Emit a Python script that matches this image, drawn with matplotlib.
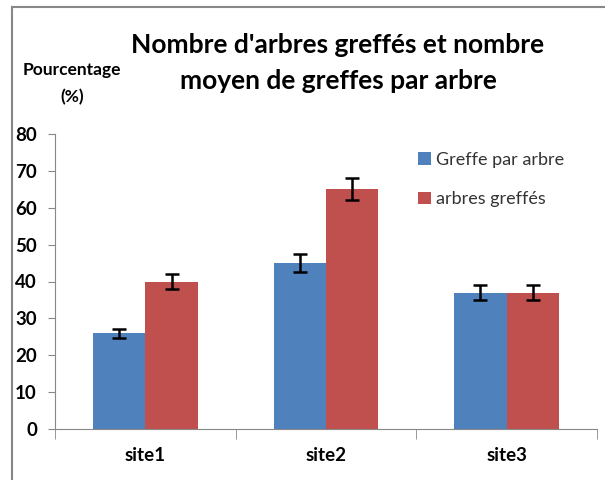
import matplotlib
matplotlib.use("Agg")
import matplotlib.pyplot as plt
from matplotlib.lines import Line2D
import numpy as np

categories = ["site1", "site2", "site3"]
greffe_par_arbre = [26, 45, 37]
greffe_err = [1.2, 2.4, 2.0]
arbres_greffes = [40, 65, 37]
arbres_err = [2.0, 3.0, 2.0]
yticks = [0, 10, 20, 30, 40, 50, 60, 70, 80]

plt.rcParams['font.family'] = ['Lato', 'DejaVu Sans']

fig = plt.figure(figsize=(6.05, 4.8), dpi=100)
ax = fig.add_axes([55/605, 1-429/480, (597-55)/605, (429-134)/480])

x = np.arange(len(categories))
w = 0.29
blue = "#4F81BD"
red = "#C0504D"
ax.bar(x - w/2, greffe_par_arbre, w, color=blue, label="Greffe par arbre",
       yerr=greffe_err, error_kw=dict(ecolor="black", capsize=5, elinewidth=1.8, capthick=1.8))
ax.bar(x + w/2, arbres_greffes, w, color=red, label="arbres greffés",
       yerr=arbres_err, error_kw=dict(ecolor="black", capsize=5, elinewidth=1.8, capthick=1.8))

ax.set_xlim(-0.5, 2.5)
ax.set_ylim(0, 80)
ax.set_yticks(yticks)
ax.set_yticklabels([str(v) for v in yticks], fontsize=13.5, fontweight="bold")
ax.set_xticks(x)
ax.set_xticklabels(categories, fontsize=13.5, fontweight="bold")
ax.tick_params(axis="x", length=0, pad=13)
ax.set_xticks([-0.5, 0.5, 1.5, 2.5], minor=True)
ax.tick_params(axis="x", which="minor", length=7, color="#888888")
ax.tick_params(axis="y", length=5, color="#888888", pad=8)
for s in ["top", "right"]:
    ax.spines[s].set_visible(False)
for s in ["left", "bottom"]:
    ax.spines[s].set_color("#888888")

leg = ax.legend(loc="upper left", bbox_to_anchor=(0.64, 0.995), frameon=False,
                fontsize=13, handlelength=0.7, handleheight=0.7, handletextpad=0.3,
                labelspacing=1.3)
for t in leg.get_texts():
    t.set_color("#333333")

fig.text(338/605, 1-45/480, "Nombre d'arbres greffés et nombre", ha="center", va="center",
         fontsize=19, fontweight="bold")
fig.text(338/605, 1-81/480, "moyen de greffes par arbre", ha="center", va="center",
         fontsize=19, fontweight="bold")
fig.text(72/605, 1-70/480, "Pourcentage", ha="center", va="center", fontsize=12.5, fontweight="bold")
fig.text(72/605, 1-97/480, "(%)", ha="center", va="center", fontsize=12.5, fontweight="bold")

# outer frame (left and top edges)
fig.add_artist(Line2D([12/605, 12/605], [0, 1-7/480], transform=fig.transFigure, color="#888888", lw=1.5))
fig.add_artist(Line2D([12/605, 1], [1-7/480, 1-7/480], transform=fig.transFigure, color="#888888", lw=1.5))

fig.savefig("out.png", dpi=100)
